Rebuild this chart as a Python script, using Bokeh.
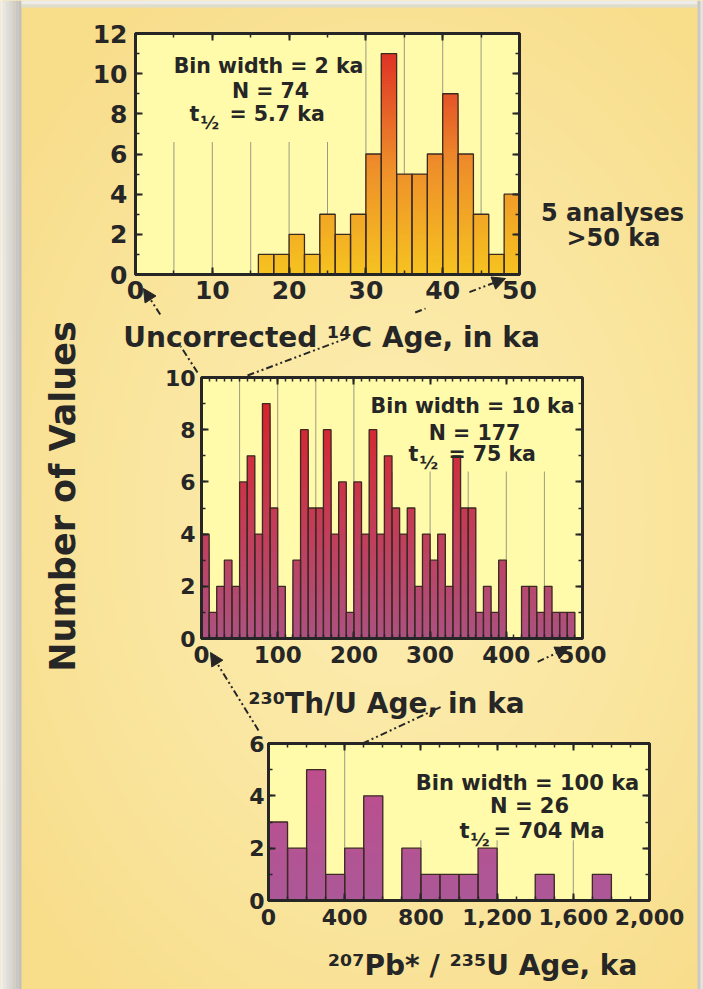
import numpy as np
from bokeh.plotting import figure
from bokeh.models import (Range1d, LinearAxis, SingleIntervalTicker, Label, Arrow,
                          NormalHead, NumeralTickFormatter)
from bokeh.embed import file_html
from bokeh.resources import INLINE

# ---------------- data ----------------
# Uncorrected 14C ages (2-ka bins), 5 more analyses are > 50 ka
c14_bin_starts = [16, 18, 20, 22, 24, 26, 28, 30, 32, 34, 36, 38, 40, 42, 44, 46, 48]
c14_counts = [1, 1, 2, 1, 3, 2, 3, 6, 11, 5, 5, 6, 9, 6, 3, 1, 4]
c14_bin_width = 2
c14_stats = ["Bin width = 2 ka", "N = 74", "= 5.7 ka"]
c14_note = ["5 analyses", ">50 ka"]
c14_title = "Uncorrected \u00b9\u2074C Age, in ka"

# 230Th/U ages (10-ka bins)
thu_bin_starts = list(range(0, 490, 10))
thu_counts = [4, 1, 2, 3, 2, 6, 7, 4, 9, 5,
              2, 0, 3, 8, 5, 5, 8, 4, 6, 1,
              6, 4, 8, 4, 7, 5, 4, 5, 2, 4,
              3, 4, 2, 7, 5, 5, 1, 2, 1, 3,
              0, 0, 2, 2, 1, 2, 1, 1, 1]
thu_bin_width = 10
thu_stats = ["Bin width = 10 ka", "N = 177", "= 75 ka"]
thu_title = "\u00b2\u00b3\u2070Th/U Age, in ka"

# 207Pb*/235U ages (100-ka bins)
pb_bin_starts = list(range(0, 1800, 100))
pb_counts = [3, 2, 5, 1, 2, 4, 0, 2, 1, 1, 1, 2, 0, 0, 1, 0, 0, 1]
pb_bin_width = 100
pb_stats = ["Bin width = 100 ka", "N = 26", "= 704 Ma"]
pb_title = "\u00b2\u2070\u2077Pb* / \u00b2\u00b3\u2075U Age, ka"

y_title = "Number of Values"

# ---------------- layout / style ----------------
W, H = 703, 989
FONT = "DejaVu Sans"
NUMFONT = "DejaVu Sans"
INK = "#262626"
PLOT_BG = "#fffbaa"
PAGE_BG = "#f9e29c"

p = figure(width=W, height=H, x_range=Range1d(0, W), y_range=Range1d(H, 0),
           min_border=0, toolbar_location=None, output_backend="svg",
           x_axis_location=None, y_axis_location=None)
p.outline_line_color = None
p.background_fill_color = PAGE_BG
p.border_fill_color = PAGE_BG
p.grid.visible = False

# page background (soft radial gradient)
nx, ny = 176, 248
gx = (np.arange(nx) + 0.5) * W / nx
gy = (np.arange(ny) + 0.5) * H / ny
GX, GY = np.meshgrid(gx, gy)
dist = np.clip(np.sqrt(((GX - 390) / 470) ** 2 + ((GY - 520) / 640) ** 2), 0, 1) ** 1.5
c_in = np.array([252, 236, 174])
c_out = np.array([248, 221, 138])
img = np.empty((ny, nx), dtype=np.uint32)
view = img.view(dtype=np.uint8).reshape((ny, nx, 4))
for k in range(3):
    view[:, :, k] = (c_in[k] + (c_out[k] - c_in[k]) * dist).astype(np.uint8)
view[:, :, 3] = 255
p.image_rgba(image=[img], x=0, y=0, dw=W, dh=H)

# grey page edges
edge_steps = 7
for i in range(edge_steps):
    g = int(238 - (238 - 192) * i / (edge_steps - 1))
    p.quad(left=i * 3, right=i * 3 + 3, bottom=0, top=H, fill_color=(g, g, g), line_color=None)
p.quad(left=21, right=697, bottom=0, top=4, fill_color="#ececec", line_color=None)
p.quad(left=21, right=697, bottom=4, top=7, fill_color="#dcdcd0", line_color=None)
p.quad(left=697, right=700, bottom=0, top=H, fill_color="#c8c8c8", line_color=None)
p.quad(left=700, right=W, bottom=0, top=H, fill_color="#e2e2e2", line_color=None)


def lerp_color(stops, t):
    t = min(max(t, 0.0), 1.0)
    for (p0, c0), (p1, c1) in zip(stops[:-1], stops[1:]):
        if t <= p1:
            f = (t - p0) / (p1 - p0)
            return "#%02x%02x%02x" % tuple(int(round(a + (b - a) * f)) for a, b in zip(c0, c1))
    return "#%02x%02x%02x" % tuple(stops[-1][1])


def panel(key, L, T, R, B, xr, yr):
    x0, x1 = xr
    y0, y1 = yr
    sx = (x1 - x0) / (R - L)
    sy = (y1 - y0) / (B - T)
    p.extra_x_ranges[key] = Range1d(x0 - L * sx, x1 + (W - R) * sx)
    p.extra_y_ranges[key] = Range1d(y0 - (H - B) * sy, y1 + T * sy)


def histogram(key, xr, yr, starts, counts, width, stops, cmax, grid_int, cover):
    x0, x1 = xr
    y0, y1 = yr
    kw = dict(x_range_name=key, y_range_name=key)
    p.quad(left=x0, right=x1, bottom=y0, top=y1, fill_color=PLOT_BG, line_color=None, **kw)
    gxs = list(np.arange(x0 + grid_int, x1, grid_int))
    p.segment(x0=gxs, x1=gxs, y0=y0, y1=y1, line_color="#9a9a84", line_width=1, **kw)
    p.quad(left=cover[0], right=cover[1], bottom=cover[2], top=cover[3],
           fill_color=PLOT_BG, line_color=None, **kw)
    # gradient-filled bars (stacked slices, coloured by height)
    step = cmax / 80.0
    ls, rs, ts, cs = [], [], [], []
    for s, c in zip(starts, counts):
        if c <= 0:
            continue
        for lv in np.arange(c, 0, -step):
            ls.append(s)
            rs.append(s + width)
            ts.append(float(lv))
            cs.append(lerp_color(stops, lv / cmax))
    p.quad(left=ls, right=rs, bottom=0, top=ts, fill_color=cs, line_color=None, **kw)
    bs = [(s, c) for s, c in zip(starts, counts) if c > 0]
    p.quad(left=[b[0] for b in bs], right=[b[0] + width for b in bs], bottom=0,
           top=[b[1] for b in bs], fill_color=None, line_color="#3a2a22", line_width=1.3, **kw)
    p.quad(left=x0, right=x1, bottom=y0, top=y1, fill_color=None, line_color=INK,
           line_width=3, **kw)


def axes(key, xr, yr, xint, xminor, yint, yminor, xfs, yfs, xso, yso, xfmt=None):
    x0, x1 = xr
    y0, y1 = yr
    common = dict(x_range_name=key, y_range_name=key, axis_line_color=None,
                  major_tick_in=7, major_tick_out=0, minor_tick_in=4, minor_tick_out=0,
                  major_tick_line_width=2, minor_tick_line_width=1.5,
                  major_tick_line_color=INK, minor_tick_line_color=INK,
                  major_label_text_font=NUMFONT, major_label_text_font_style="bold")
    b = LinearAxis(fixed_location=y0, bounds=(x0, x1),
                   ticker=SingleIntervalTicker(interval=xint, num_minor_ticks=xminor),
                   major_label_text_font_size=xfs, major_label_standoff=xso,
                   major_label_text_color=INK, **common)
    if xfmt is not None:
        b.formatter = xfmt
    p.add_layout(b, "below")
    t = LinearAxis(fixed_location=y1, bounds=(x0, x1),
                   ticker=SingleIntervalTicker(interval=xint, num_minor_ticks=xminor),
                   major_label_text_font_size="0px", major_label_text_color=None, **common)
    p.add_layout(t, "above")
    l = LinearAxis(fixed_location=x0, bounds=(y0, y1),
                   ticker=SingleIntervalTicker(interval=yint, num_minor_ticks=yminor),
                   major_label_text_font_size=yfs, major_label_standoff=yso,
                   major_label_text_color=INK, **common)
    p.add_layout(l, "left")
    r = LinearAxis(fixed_location=x1, bounds=(y0, y1),
                   ticker=SingleIntervalTicker(interval=yint, num_minor_ticks=yminor),
                   major_label_text_font_size="0px", major_label_text_color=None, **common)
    p.add_layout(r, "right")


def txt(x, y, s, size, align="center", font=FONT, angle=0.0, baseline="alphabetic"):
    p.add_layout(Label(x=x, y=y, text=s, text_font=font, text_font_style="bold",
                       text_font_size=f"{size}px", text_color=INK, text_align=align,
                       text_baseline=baseline, angle=angle))


def stats_block(lines, cx, y1, y2, y3, tx, eqx, size):
    txt(cx, y1, lines[0], size)
    txt(cx + 2, y2, lines[1], size)
    txt(tx, y3, "t", size, align="left")
    txt(tx + 11, y3 + 9, "\u00bd", size - 2.5, align="left")
    txt(eqx, y3, lines[2], size, align="left")


def connector(S, E, visible):
    S = np.array(S, dtype=float)
    E = np.array(E, dtype=float)
    dash = "7 3 2 3 2 3"
    for a, b in visible:
        P0 = S + (E - S) * a
        P1 = S + (E - S) * b
        if b >= 1:
            p.add_layout(Arrow(end=NormalHead(size=13, fill_color=INK, line_color=INK, line_width=1),
                               x_start=P0[0], y_start=P0[1], x_end=P1[0], y_end=P1[1],
                               line_color=INK, line_width=2, line_dash=dash))
        else:
            p.line([P0[0], P1[0]], [P0[1], P1[1]], line_color=INK, line_width=2, line_dash=dash)


# ---------- top panel: 14C ----------
C14 = dict(L=135, T=33, R=519, B=274, xr=(0, 50), yr=(0, 12))
panel("c14", C14["L"], C14["T"], C14["R"], C14["B"], C14["xr"], C14["yr"])
histogram("c14", C14["xr"], C14["yr"], c14_bin_starts, c14_counts, c14_bin_width,
          [(0, (246, 196, 32)), (0.5, (238, 142, 42)), (1.0, (222, 52, 38))], 11,
          5, (0, 29.3, 6.6, 12))
axes("c14", C14["xr"], C14["yr"], 10, 2, 2, 2, "25px", "25px", 6, 8)

# ---------- middle panel: 230Th/U ----------
THU = dict(L=201, T=377, R=582, B=638, xr=(0, 500), yr=(0, 10))
panel("thu", THU["L"], THU["T"], THU["R"], THU["B"], THU["xr"], THU["yr"])
histogram("thu", THU["xr"], THU["yr"], thu_bin_starts, thu_counts, thu_bin_width,
          [(0, (172, 82, 130)), (0.5, (196, 60, 86)), (1.0, (216, 36, 44))], 9,
          50, (215, 500, 6.4, 10))
axes("thu", THU["xr"], THU["yr"], 100, 10, 2, 2, "23px", "22px", 7, 6)

# ---------- bottom panel: 207Pb*/235U ----------
PB = dict(L=268, T=743, R=649, B=900, xr=(0, 2000), yr=(0, 6))
panel("pb", PB["L"], PB["T"], PB["R"], PB["B"], PB["xr"], PB["yr"])
histogram("pb", PB["xr"], PB["yr"], pb_bin_starts, pb_counts, pb_bin_width,
          [(0, (172, 88, 152)), (1.0, (190, 78, 140))], 5,
          400, (700, 2000, 2.3, 6))
axes("pb", PB["xr"], PB["yr"], 400, 4, 2, 2, "22px", "22px", 8, 4,
     xfmt=NumeralTickFormatter(format="0,0"))

# ---------- connectors ----------
connector((197, 372), (143, 288), [(0, 0.31), (0.69, 1)])
connector((247, 375), (505, 278), [(0, 0.388), (0.65, 0.69), (0.86, 1)])
connector((258, 730), (210, 652), [(0, 1)])
connector((362, 743), (568, 647), [(0, 0.379), (0.85, 1)])

# ---------- texts ----------
stats_block(c14_stats, 268, 65, 90, 113, 189, 229, 20.5)
stats_block(thu_stats, 472, 405, 432, 453, 408, 448, 20.5)
stats_block(pb_stats, 527, 782, 805, 830, 459, 493, 21)

txt(612, 212, c14_note[0], 24)
txt(613, 237, c14_note[1], 24)

txt(331, 337, c14_title, 28)
txt(386, 703, thu_title, 28)
txt(482, 965, pb_title, 28)

txt(62, 496, y_title, 35, angle=np.pi / 2, baseline="middle")

open("out.html", "w").write(file_html(p, INLINE))
